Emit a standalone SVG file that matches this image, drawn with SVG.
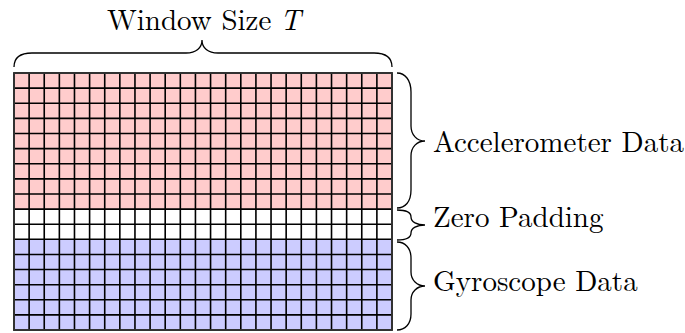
<svg xmlns="http://www.w3.org/2000/svg" width="685" height="333" viewBox="0 0 685 333">
<style>
text{font-family:'Latin Modern Roman','CMU Serif','Liberation Serif','Times New Roman',Tinos,'Noto Serif','DejaVu Serif','Nimbus Roman','FreeSerif',Times,serif;font-size:29px;fill:#000}
.it{font-style:italic}
.brace{fill:none;stroke:#000;stroke-width:1.3}
.grid{fill:none;stroke:#000;stroke-width:1.6}
</style>
<rect width="685" height="333" fill="#fff"/>
<g id="matrix">
<rect id="accel-block" x="14" y="73" width="378" height="136.08" fill="#ffcccc"/>
<rect id="zero-block" x="14" y="209.08" width="378" height="30.24" fill="#ffffff"/>
<rect id="gyro-block" x="14" y="239.32" width="378" height="90.72" fill="#ccccff"/>
<path class="grid" d="M14,73v257.04m15.12,-257.04v257.04m15.12,-257.04v257.04m15.12,-257.04v257.04m15.12,-257.04v257.04m15.12,-257.04v257.04m15.12,-257.04v257.04m15.12,-257.04v257.04m15.12,-257.04v257.04m15.12,-257.04v257.04m15.12,-257.04v257.04m15.12,-257.04v257.04m15.12,-257.04v257.04m15.12,-257.04v257.04m15.12,-257.04v257.04m15.12,-257.04v257.04m15.12,-257.04v257.04m15.12,-257.04v257.04m15.12,-257.04v257.04m15.12,-257.04v257.04m15.12,-257.04v257.04m15.12,-257.04v257.04m15.12,-257.04v257.04m15.12,-257.04v257.04m15.12,-257.04v257.04m15.12,-257.04v257.04"/>
<path class="grid" d="M14,73h378m-378,15.12h378m-378,15.12h378m-378,15.12h378m-378,15.12h378m-378,15.12h378m-378,15.12h378m-378,15.12h378m-378,15.12h378m-378,15.12h378m-378,15.12h378m-378,15.12h378m-378,15.12h378m-378,15.12h378m-378,15.12h378m-378,15.12h378m-378,15.12h378m-378,15.12h378"/>
<rect x="14" y="73" width="378" height="257.04" fill="none" stroke="#333" stroke-width="1.9"/>
</g>
<g id="connectors">
<path id="brace-window" class="brace" d="M14,67 C14,58 20,53 32,53 L186,53 C196,53 202,48 202,40 C202,48 208,53 218,53 L374,53 C386,53 392,58 392,67"/>
<path id="brace-accel" class="brace" d="M397,73 C405,73 411,80 411,92 L411,126 C411,135 417,141 425,141 C417,141 411,147 411,156 L411,190 C411,202 405,208 397,208"/>
<path id="brace-zero" class="brace" d="M397,210 C405,210 411,212 411,217 C411,222 417,225 425,225 C417,225 411,228 411,233 C411,238 405,240 397,240"/>
<path id="brace-gyro" class="brace" d="M397,242 C405,242 411,248 411,258 L411,272 C411,280 417,286 425,286 C417,286 411,292 411,300 L411,314 C411,324 405,330 397,330"/>
</g>
<g id="label-window"><text x="107" y="30">Window Size</text><text class="it" x="280" y="30">T</text></g>
<g id="label-accel"><text x="433" y="151.5">Accelerometer Data</text></g>
<g id="label-zero"><text x="433" y="226.5">Zero Padding</text></g>
<g id="label-gyro"><text x="433" y="291">Gyroscope Data</text></g>
</svg>
